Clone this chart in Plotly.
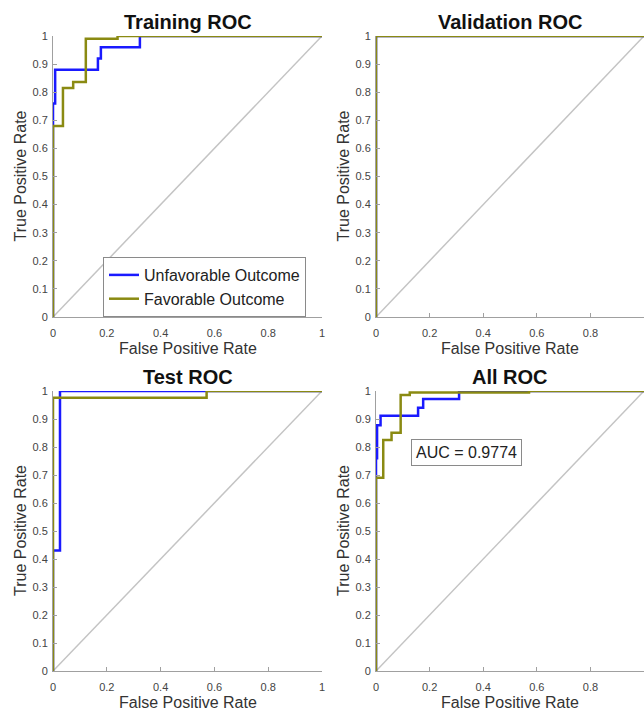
import plotly.graph_objects as go

# ---- data ----
titles = ["Training ROC", "Validation ROC", "Test ROC", "All ROC"]
series_names = ["Unfavorable Outcome", "Favorable Outcome"]
x_title = "False Positive Rate"
y_title = "True Positive Rate"
x_tick_vals = [0, 0.2, 0.4, 0.6, 0.8, 1]
x_tick_text = ["0", "0.2", "0.4", "0.6", "0.8", "1"]
y_tick_vals = [0, 0.1, 0.2, 0.3, 0.4, 0.5, 0.6, 0.7, 0.8, 0.9, 1]
y_tick_text = ["0", "0.1", "0.2", "0.3", "0.4", "0.5", "0.6", "0.7", "0.8", "0.9", "1"]
diag_x = [0, 1]
diag_y = [0, 1]

train_unfav_fpr = [0, 0, 0.008, 0.008, 0.167, 0.167, 0.178, 0.178, 0.323, 0.323, 1]
train_unfav_tpr = [0, 0.76, 0.76, 0.88, 0.88, 0.92, 0.92, 0.96, 0.96, 1.0, 1.0]
train_fav_fpr = [0, 0, 0.037, 0.037, 0.075, 0.075, 0.122, 0.122, 0.24, 0.24, 1]
train_fav_tpr = [0, 0.68, 0.68, 0.815, 0.815, 0.836, 0.836, 0.99, 0.99, 1.0, 1.0]

val_unfav_fpr = [0, 0, 1]
val_unfav_tpr = [0, 1, 1]
val_fav_fpr = [0, 0, 1]
val_fav_tpr = [0, 1, 1]

test_unfav_fpr = [0, 0, 0.026, 0.026, 1]
test_unfav_tpr = [0, 0.43, 0.43, 1.0, 1.0]
test_fav_fpr = [0, 0, 0.571, 0.571, 1]
test_fav_tpr = [0, 0.976, 0.976, 1.0, 1.0]

all_unfav_fpr = [0, 0, 0.004, 0.004, 0.017, 0.017, 0.157, 0.157, 0.176, 0.176, 0.31, 0.31, 1]
all_unfav_tpr = [0, 0.76, 0.76, 0.878, 0.878, 0.912, 0.912, 0.94, 0.94, 0.971, 0.971, 1.0, 1.0]
all_fav_fpr = [0, 0, 0.027, 0.027, 0.058, 0.058, 0.092, 0.092, 0.126, 0.126, 0.571, 0.571, 1]
all_fav_tpr = [0, 0.69, 0.69, 0.825, 0.825, 0.851, 0.851, 0.986, 0.986, 0.995, 0.995, 1.0, 1.0]

auc_text = "AUC = 0.9774"

curves = [
    (train_unfav_fpr, train_unfav_tpr, train_fav_fpr, train_fav_tpr),
    (val_unfav_fpr, val_unfav_tpr, val_fav_fpr, val_fav_tpr),
    (test_unfav_fpr, test_unfav_tpr, test_fav_fpr, test_fav_tpr),
    (all_unfav_fpr, all_unfav_tpr, all_fav_fpr, all_fav_tpr),
]

# ---- styling / layout ----
W, H = 644, 712
BLUE = "#1a1aff"
OLIVE = "#8a8a12"
GRAY_DIAG = "#c4c4c4"
AXIS = "#a0a0a0"
FONT = "Liberation Sans, Arial, Helvetica, sans-serif"

# pixel boxes (left, right, top, bottom)
boxes = [
    (53, 322, 36, 317),
    (376, 644, 36, 317),
    (53, 322, 391, 671),
    (376, 644, 391, 671),
]

fig = go.Figure()
layout = dict(
    width=W, height=H,
    margin=dict(l=0, r=0, t=0, b=0, autoexpand=False),
    paper_bgcolor="white", plot_bgcolor="white",
    font=dict(family=FONT, color="#333"),
    showlegend=True,
    legend=dict(
        x=103 / W, y=1 - 257 / H, xanchor="left", yanchor="top",
        bgcolor="white", bordercolor="#8a8a8a", borderwidth=1,
        font=dict(size=16, color="#222", family=FONT),
        tracegroupgap=0, itemwidth=30,
    ),
    annotations=[], shapes=[],
)

for i, (box, title, (ux, uy, fx, fy)) in enumerate(zip(boxes, titles, curves)):
    l, r, t, b = box
    xa = "xaxis" if i == 0 else f"xaxis{i+1}"
    ya = "yaxis" if i == 0 else f"yaxis{i+1}"
    xr = "x" if i == 0 else f"x{i+1}"
    yr = "y" if i == 0 else f"y{i+1}"
    common = dict(
        showgrid=False, zeroline=False, showline=True, linecolor=AXIS, linewidth=1,
        ticks="inside", ticklen=4, tickcolor=AXIS, tickwidth=1,
        tickfont=dict(size=11, color="#444", family=FONT),
        range=[0, 1], fixedrange=True, automargin=False,
    )
    layout[xa] = dict(
        common, domain=[l / W, r / W], anchor=yr,
        tickvals=x_tick_vals, ticktext=x_tick_text, ticklabelstandoff=6,
    )
    layout[ya] = dict(
        common, domain=[1 - b / H, 1 - t / H], anchor=xr,
        tickvals=y_tick_vals, ticktext=y_tick_text, ticklabelstandoff=2,
    )
    # subplot title
    layout["annotations"].append(dict(
        text=f"<b>{title}</b>", x=(l + r) / 2 / W, y=1 - (t - 1) / H,
        xref="paper", yref="paper", xanchor="center", yanchor="bottom",
        showarrow=False, font=dict(size=20, color="#111", family=FONT),
    ))
    # axis titles
    layout["annotations"].append(dict(
        text=x_title, x=(l + r) / 2 / W, y=1 - (b + 31) / H,
        xref="paper", yref="paper", xanchor="center", yanchor="middle",
        showarrow=False, font=dict(size=16, color="#333", family=FONT),
    ))
    layout["annotations"].append(dict(
        text=y_title, x=(l - 33) / W, y=1 - (t + b) / 2 / H, textangle=-90,
        xref="paper", yref="paper", xanchor="center", yanchor="middle",
        showarrow=False, font=dict(size=16, color="#333", family=FONT),
    ))
    fig.add_trace(go.Scatter(x=diag_x, y=diag_y, mode="lines", xaxis=xr, yaxis=yr,
                             line=dict(color=GRAY_DIAG, width=1.5), showlegend=False,
                             hoverinfo="skip", cliponaxis=False))
    fig.add_trace(go.Scatter(x=ux, y=uy, mode="lines", xaxis=xr, yaxis=yr,
                             name=series_names[0], line=dict(color=BLUE, width=2.5),
                             showlegend=(i == 0), cliponaxis=False))
    fig.add_trace(go.Scatter(x=fx, y=fy, mode="lines", xaxis=xr, yaxis=yr,
                             name=series_names[1], line=dict(color=OLIVE, width=2.5),
                             showlegend=(i == 0), cliponaxis=False))

# AUC label in All ROC
layout["annotations"].append(dict(
    text=auc_text, x=467 / W, y=1 - 452 / H, xref="paper", yref="paper",
    xanchor="center", yanchor="middle", showarrow=False,
    font=dict(size=16, color="#222", family=FONT),
    bordercolor="#8a8a8a", borderwidth=1, borderpad=4, bgcolor="white",
))

fig.update_layout(**layout)
fig.write_html(
    "out.html",
    config={"displayModeBar": False},
    post_script="document.body.style.margin='0';document.body.style.overflow='hidden';",
)
